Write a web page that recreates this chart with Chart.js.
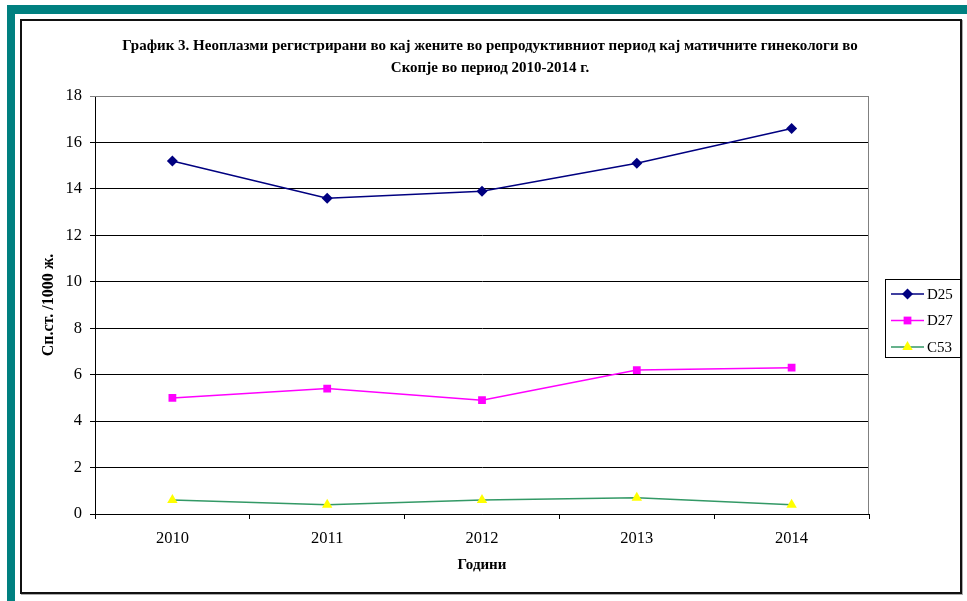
<!DOCTYPE html>
<html>
<head>
<meta charset="utf-8">
<title>График 3</title>
<script src="https://cdn.jsdelivr.net/npm/chart.js@4.4.0/dist/chart.umd.min.js"></script>
<style>
  body { margin: 0; background: #fff; overflow: hidden; }
  #frame-top { position: absolute; left: 7px; top: 5px; width: 960px; height: 9px; background: #008080; }
  #frame-left { position: absolute; left: 7px; top: 5px; width: 8px; height: 596px; background: #008080; }
  #box { position: absolute; left: 20px; top: 19px; width: 938px; height: 571px; border: 2px solid #111; box-shadow: 1px 1px 0 #aaa; }
  #chart { position: absolute; left: 0; top: 0; }
</style>
</head>
<body>
<div id="frame-top"></div>
<div id="frame-left"></div>
<div id="box"></div>
<canvas id="chart" width="967" height="601"></canvas>
<script>
// Years and rates per 1000 women
const years = ["2010", "2011", "2012", "2013", "2014"];
const d25 = [15.2, 13.6, 13.9, 15.1, 16.6];
const d27 = [5.0, 5.4, 4.9, 6.2, 6.3];
const c53 = [0.6, 0.4, 0.6, 0.7, 0.4];

const titleLines = [
    "График 3. Неоплазми регистрирани во кај жените во репродуктивниот период кај матичните гинекологи во",
    "Скопје во период 2010-2014 г."
];

const serif = "'Liberation Serif', 'Times New Roman', serif";

// Title centred over the plot, two lines
const titlePlugin = {
    id: "titleLines",
    afterDraw(chart) {
        const ctx = chart.ctx;
        ctx.save();
        ctx.fillStyle = "#000";
        ctx.font = "bold 15px " + serif;
        ctx.textAlign = "center";
        ctx.textBaseline = "middle";
        titleLines.forEach((line, i) => ctx.fillText(line, 490, 46 + i * 22));
        ctx.restore();
    }
};

// Grey frame on the top and right of the plot area
const plotFrame = {
    id: "plotFrame",
    afterDraw(chart) {
        const a = chart.chartArea;
        const ctx = chart.ctx;
        ctx.save();
        ctx.strokeStyle = "#808080";
        ctx.lineWidth = 1;
        ctx.beginPath();
        ctx.moveTo(a.left, a.top + 0.5);
        ctx.lineTo(a.right - 0.5, a.top + 0.5);
        ctx.lineTo(a.right - 0.5, a.bottom);
        ctx.stroke();
        ctx.restore();
    }
};

function drawMarker(ctx, style, x, y, r) {
    ctx.beginPath();
    if (style === "rectRot") {
        ctx.moveTo(x, y - r);
        ctx.lineTo(x + r, y);
        ctx.lineTo(x, y + r);
        ctx.lineTo(x - r, y);
    } else if (style === "rect") {
        const s = r * Math.SQRT1_2;
        ctx.rect(x - s, y - s, 2 * s, 2 * s);
    } else {
        ctx.moveTo(x, y - r);
        ctx.lineTo(x + r * 0.866, y + r * 0.5);
        ctx.lineTo(x - r * 0.866, y + r * 0.5);
    }
    ctx.closePath();
    ctx.fill();
}

// Boxed legend to the right of the plot
const boxLegend = {
    id: "boxLegend",
    afterDraw(chart) {
        const ctx = chart.ctx;
        ctx.save();
        ctx.strokeStyle = "#000";
        ctx.lineWidth = 1;
        ctx.strokeRect(885.5, 279.5, 75, 78);
        ctx.font = "15px " + serif;
        ctx.textBaseline = "middle";
        chart.data.datasets.forEach((ds, i) => {
            const y = 294 + i * 26.5;
            ctx.strokeStyle = ds.borderColor;
            ctx.lineWidth = 1.5;
            ctx.beginPath();
            ctx.moveTo(891, y);
            ctx.lineTo(924, y);
            ctx.stroke();
            ctx.fillStyle = ds.pointBackgroundColor;
            drawMarker(ctx, ds.pointStyle, 907.5, y, ds.pointRadius);
            ctx.fillStyle = "#000";
            ctx.fillText(ds.label, 927, y + 1);
        });
        ctx.restore();
    }
};

new Chart(document.getElementById("chart").getContext("2d"), {
    type: "line",
    data: {
        labels: years,
        datasets: [
            {
                label: "D25",
                data: d25,
                borderColor: "#000080",
                borderWidth: 1.5,
                pointStyle: "rectRot",
                pointRadius: 5.5,
                pointBackgroundColor: "#000080",
                pointBorderColor: "#000080",
                pointBorderWidth: 0
            },
            {
                label: "D27",
                data: d27,
                borderColor: "#FF00FF",
                borderWidth: 1.5,
                pointStyle: "rect",
                pointRadius: 5.5,
                pointBackgroundColor: "#FF00FF",
                pointBorderColor: "#FF00FF",
                pointBorderWidth: 0
            },
            {
                label: "C53",
                data: c53,
                borderColor: "#339966",
                borderWidth: 1.5,
                pointStyle: "triangle",
                pointRadius: 6,
                pointBackgroundColor: "#FFFF00",
                pointBorderColor: "#FFFF00",
                pointBorderWidth: 0
            }
        ]
    },
    options: {
        responsive: false,
        animation: false,
        layout: { padding: { left: 13, right: 98, top: 96, bottom: 0 } },
        plugins: {
            legend: { display: false },
            title: { display: false },
            tooltip: { enabled: false }
        },
        scales: {
            x: {
                offset: true,
                afterFit: (scale) => { scale.height = 87; },
                grid: {
                    offset: true,
                    drawOnChartArea: false,
                    drawTicks: true,
                    tickLength: 5,
                    color: "#000"
                },
                border: { color: "#000", width: 1 },
                ticks: {
                    color: "#000",
                    padding: 10,
                    font: { family: serif, size: 16.5 }
                },
                title: {
                    display: true,
                    text: "Години",
                    color: "#000",
                    font: { family: serif, size: 15, weight: "bold" },
                    padding: { top: 0, bottom: 27 }
                }
            },
            y: {
                min: 0,
                max: 18,
                afterFit: (scale) => { scale.width = 82; },
                grid: {
                    color: (c) => (c.tick && c.tick.value === 18 ? "#808080" : "#000"),
                    tickLength: 5,
                    lineWidth: 1
                },
                border: { color: "#000", width: 1 },
                ticks: {
                    stepSize: 2,
                    color: "#000",
                    padding: 8,
                    font: { family: serif, size: 16.5 }
                },
                title: {
                    display: true,
                    text: "Сп.ст. /1000 ж.",
                    color: "#000",
                    font: { family: serif, size: 16, weight: "bold" },
                    padding: { top: 26, bottom: 0 }
                }
            }
        }
    },
    plugins: [plotFrame, titlePlugin, boxLegend]
});
</script>
</body>
</html>
